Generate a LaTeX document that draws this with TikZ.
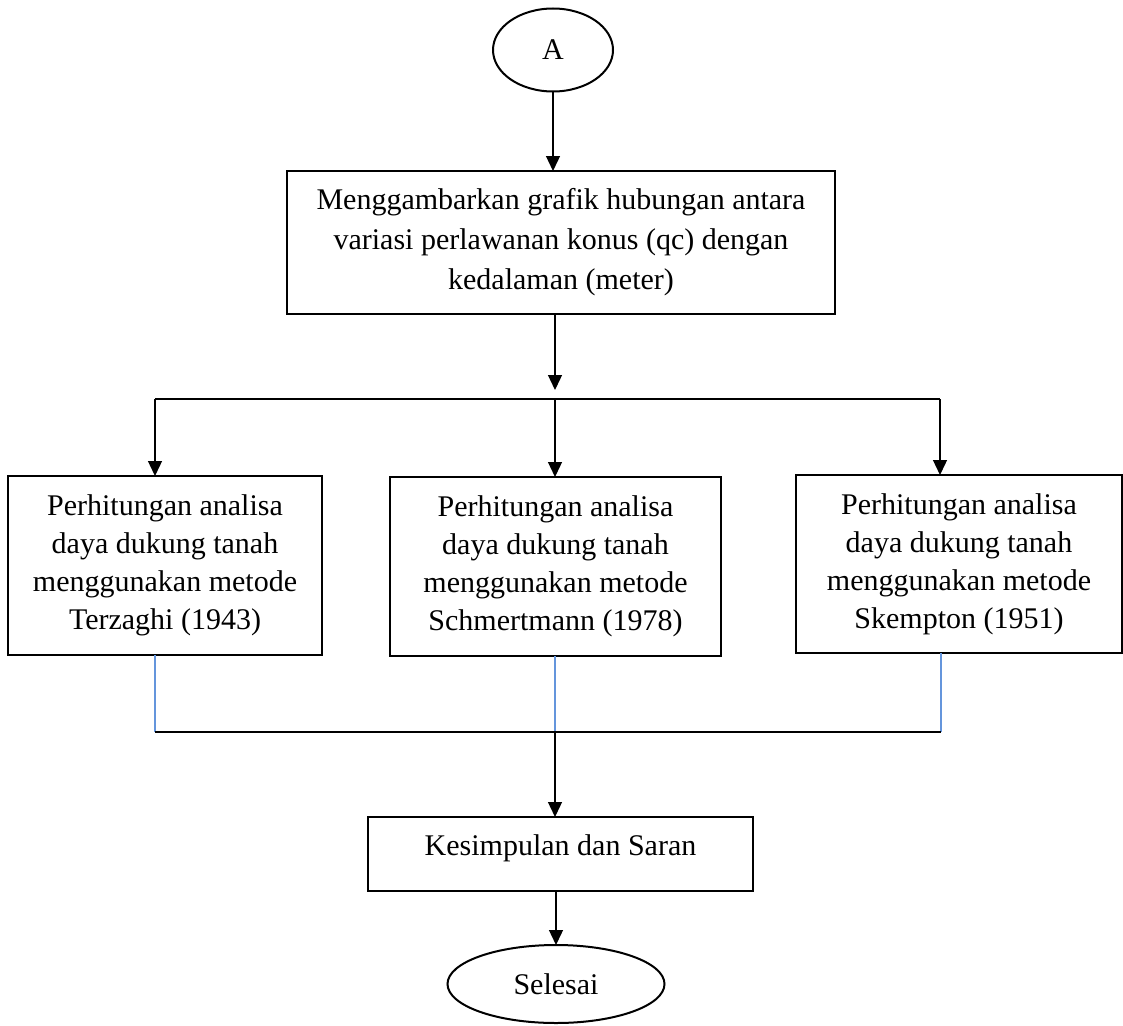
\documentclass[tikz,border=0pt]{standalone}
\usepackage{fontspec}
\setmainfont{Liberation Serif}
\usetikzlibrary{arrows.meta,shapes.geometric}
\definecolor{connblue}{RGB}{100,149,220}
\begin{document}
\begin{tikzpicture}[x=1pt,y=-1pt,
  every node/.style={inner sep=0pt, outer sep=0pt},
  boxnode/.style={draw=black, line width=2pt, align=center,
    font=\fontsize{30}{38}\selectfont},
  ovalnode/.style={draw=black, line width=2pt, ellipse,
    font=\fontsize{30}{36}\selectfont},
  arr/.style={line width=1.3pt, -{Triangle[width=14pt,length=15pt]}},
  conn/.style={line width=1.3pt},
  blueconn/.style={line width=1.3pt, draw=connblue}]
\useasboundingbox (0,0) rectangle (1123,1025);

\node[ovalnode, minimum width=120pt, minimum height=83pt] (A) at (553,50) {A};

\node[boxnode, minimum width=548pt, minimum height=143pt,
  font=\fontsize{30}{40}\selectfont] (top) at (561,242.5)
  {Menggambarkan grafik hubungan antara\\variasi perlawanan konus (qc) dengan\\kedalaman (meter)};

\node[boxnode, minimum width=314pt, minimum height=179pt] (b1) at (165,565.5)
  {Perhitungan analisa\\daya dukung tanah\\menggunakan metode\\Terzaghi (1943)};
\node[boxnode, minimum width=331pt, minimum height=179pt] (b2) at (555.5,566.5)
  {Perhitungan analisa\\daya dukung tanah\\menggunakan metode\\Schmertmann (1978)};
\node[boxnode, minimum width=326pt, minimum height=178pt] (b3) at (959,564)
  {Perhitungan analisa\\daya dukung tanah\\menggunakan metode\\Skempton (1951)};

\node[boxnode, minimum width=385pt, text height=38pt, text depth=36pt] (kes) at (560.5,854)
  {Kesimpulan dan Saran};

\node[ovalnode, minimum width=217pt, minimum height=78pt] (end) at (556,984) {Selesai};

% coordinates
\coordinate (split) at (555,390);
\coordinate (hl) at (155,399);
\coordinate (hm) at (555,399);
\coordinate (hr) at (940,399);
\coordinate (jl) at (155,732);
\coordinate (jm) at (555,732);
\coordinate (jr) at (941,732);

\draw[arr] (A) -- (A.south |- top.north);
\draw[arr] (top.south -| split) -- (split);
\draw[conn] (hl) -- (hr);
\draw[arr] (hl) -- (hl |- b1.north);
\draw[arr] (hm) -- (hm |- b2.north);
\draw[arr] (hr) -- (hr |- b3.north);

\draw[blueconn] (jl |- b1.south) -- (jl);
\draw[blueconn] (jm |- b2.south) -- (jm);
\draw[blueconn] (jr |- b3.south) -- (jr);
\draw[conn, line width=1.8pt] (jl) -- (jr);
\draw[arr] (jm) -- (jm |- kes.north);
\draw[arr] (kes.south -| end) -- (end.north);
\end{tikzpicture}
\end{document}
